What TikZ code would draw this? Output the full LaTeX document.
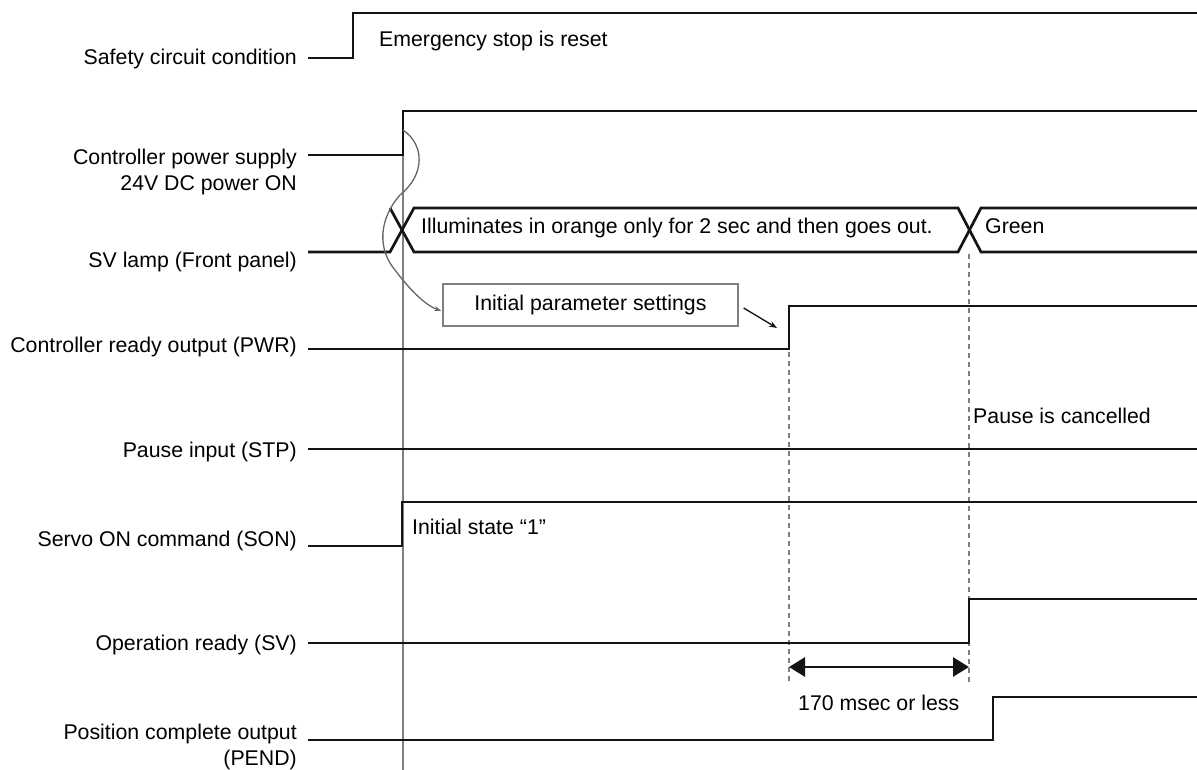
\documentclass[tikz,border=0pt]{standalone}
\usepackage{fontspec}
\setmainfont{Liberation Sans}
\usetikzlibrary{arrows.meta,calc}
\definecolor{sig}{HTML}{141414}
\definecolor{guide}{HTML}{7F7F7F}
\definecolor{curvec}{HTML}{666666}
\tikzset{
  signal/.style={draw=sig,line width=2.7pt,line join=miter},
  lbl/.style={anchor=base east,inner sep=0pt,font=\fontsize{21.3}{25}\selectfont},
  note/.style={anchor=base west,inner sep=0pt,font=\fontsize{21.3}{25}\selectfont},
  guideline/.style={draw=guide,line width=1.3pt},
  dashguide/.style={draw=guide,line width=1.2pt,dash pattern=on 5pt off 4pt},
  parambox/.style={draw=guide,line width=1.3pt,minimum width=295pt,minimum height=42pt,inner sep=0pt,font=\fontsize{21.3}{25}\selectfont},
}
\begin{document}
\begin{tikzpicture}[x=1pt,y=-1pt]
\useasboundingbox[fill=white] (0,0) rectangle (1197,770);
% labels
\node[lbl] (l1) at (297,64.5) {Safety circuit condition};
\node[lbl] (l2a) at (297,165) {Controller power supply};
\node[lbl] (l2b) at (297,191) {24V DC power ON};
\node[lbl] (l3) at (297,268) {SV lamp (Front panel)};
\node[lbl] (l4) at (297,352) {Controller ready output (PWR)};
\node[lbl] (l5) at (297,457) {Pause input (STP)};
\node[lbl] (l6) at (297,546) {Servo ON command (SON)};
\node[lbl] (l7) at (297,650) {Operation ready (SV)};
\node[lbl] (l8a) at (297,739) {Position complete output};
\node[lbl] (l8b) at (297,765) {(PEND)};
% guide lines
\draw[guideline] (403,111) -- (403,770);
\draw[dashguide] (789,352) -- (789,683);
\draw[dashguide] (969,254) -- (969,683);
% signals
\draw[signal] (308,58) -- (353,58) -- (353,13) -- (1197,13);
\draw[signal] (308,155) -- (403,155) -- (403,111) -- (1197,111);
\draw[signal] (308,252) -- (390,252) -- (414,208) -- (958,208) -- (981,252) -- (1197,252);
\draw[signal] (390,208) -- (414,252) -- (958,252) -- (981,208) -- (1197,208);
\draw[signal] (308,349) -- (789,349) -- (789,306) -- (1197,306);
\draw[signal] (308,449) -- (1197,449);
\draw[signal] (308,546) -- (402,546) -- (402,502) -- (1197,502);
\draw[signal] (308,643) -- (969,643) -- (969,599) -- (1197,599);
\draw[signal] (308,740) -- (993,740) -- (993,697) -- (1197,697);
% notes
\node[note] (n1) at (379,47) {Emergency stop is reset};
\node[note] (n2) at (421,234) {Illuminates in orange only for 2 sec and then goes out.};
\node[note] (n3) at (985,234) {Green};
\node[note] (n4) at (973,423) {Pause is cancelled};
\node[note] (n5) at (412,534) {Initial state “1”};
\node[note] (n6) at (798,710) {170 msec or less};
% parameter box
\node[parambox,fill=white] (box) at (590.5,305) {Initial parameter settings};
\coordinate (pwron) at (403,130);
\coordinate (pwrrise) at (777,328);
\draw[draw=curvec,line width=1.3pt,-{Stealth[length=7pt,width=5pt]}]
  (pwron) .. controls (425,145) and (425,175) .. (400,195)
          .. controls (378,220) and (378,250) .. (395,270)
          .. controls (410,290) and (425,305) .. ($(box.west)+(-1,6)$);
\draw[draw=sig,line width=1.3pt,-{Stealth[length=8pt,width=6pt]}] ($(box.east)+(5,3)$) -- (pwrrise);
% timing arrow
\coordinate (ta) at (789,667);
\coordinate (tb) at (969,667);
\draw[draw=sig,line width=2.7pt,{Triangle[length=16pt,width=19pt]}-{Triangle[length=16pt,width=19pt]}] (ta) -- (tb);
\end{tikzpicture}
\end{document}
